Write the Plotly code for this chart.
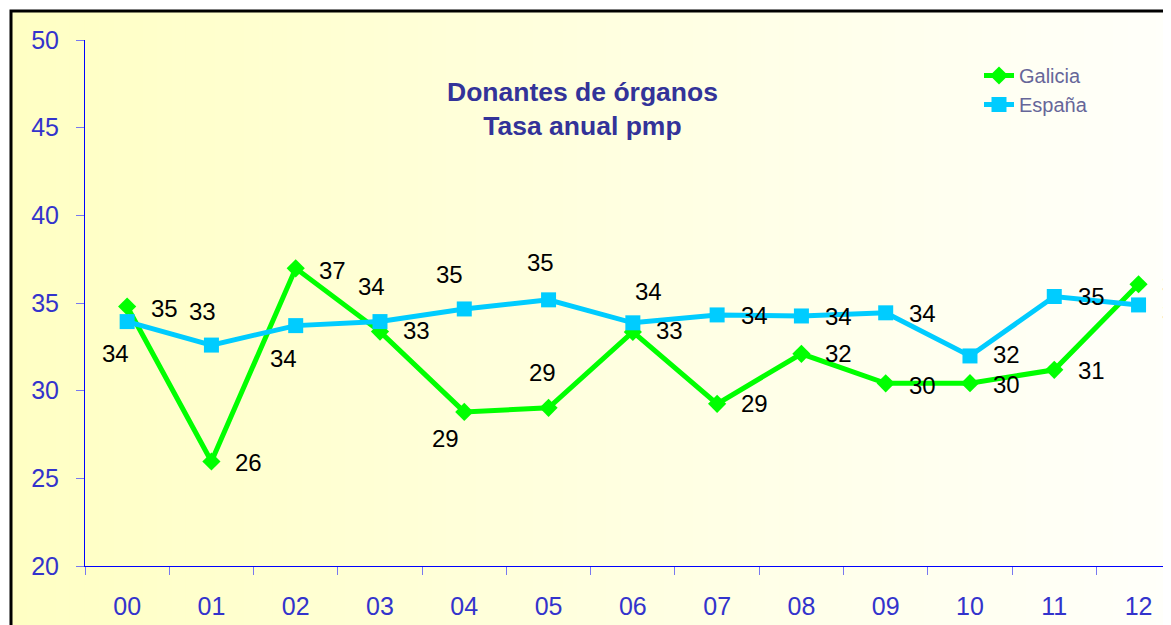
import plotly.graph_objects as go

# ---- data ----
years = ["00", "01", "02", "03", "04", "05", "06", "07", "08", "09", "10", "11", "12"]
galicia = [34.8, 25.96, 36.98, 33.37, 28.79, 29.02, 33.35, 29.25, 32.1, 30.42, 30.43, 31.19, 36.07]
espana = [33.94, 32.6, 33.71, 33.94, 34.66, 35.18, 33.87, 34.32, 34.26, 34.44, 31.98, 35.37, 34.89]
y_ticks = [20, 25, 30, 35, 40, 45, 50]
title_lines = ["Donantes de órganos", "Tasa anual pmp"]

# ---- label offsets (style: pixels, dx right, dy down) ----
gal_off = [(37, 2), (37, 1), (37, 2), (37, -1), (-19, 27), (-6, -35), (37, -1),
           (37, 0), (37, 0), (37, 2), (37, 1), (37, 1), (37, 0)]
esp_off = [(-12, 32), (-9, -34), (-12, 33), (-8, -35), (-15, -34), (-8, -37), (16, -31),
           (37, 1), (37, 1), (37, 1), (37, -1), (37, 0), (37, 8)]

FONT = "Arial, Liberation Sans, sans-serif"
OFF = 8  # page body margin
W, H = 1171 - OFF, 625 - OFF
L, R, T = 85 - OFF, 0, 40 - OFF
PH = 526
B = H - T - PH
PW = W - L - R


def px2x(px):  # page pixel -> paper
    return (px - (L + OFF)) / PW


def py2y(py):
    return ((T + OFF + PH) - py) / PH


fig = go.Figure()
fig.add_trace(go.Scatter(
    x=years, y=galicia, name="Galicia", mode="lines+markers",
    line=dict(color="#00FF00", width=5),
    marker=dict(symbol="diamond", size=14, color="#00FF00"),
    cliponaxis=False,
))
fig.add_trace(go.Scatter(
    x=years, y=espana, name="España", mode="lines+markers",
    line=dict(color="#00CCFF", width=5),
    marker=dict(symbol="square", size=15, color="#00CCFF"),
    cliponaxis=False,
))

annotations = []
for series, offs in ((galicia, gal_off), (espana, esp_off)):
    for xv, yv, (dx, dy) in zip(years, series, offs):
        annotations.append(dict(
            x=xv, y=yv, xref="x", yref="y", text=f"{yv:.0f}", showarrow=False,
            xshift=dx, yshift=-dy, xanchor="center", yanchor="middle",
            font=dict(family=FONT, size=24, color="#000000"),
        ))

annotations.append(dict(
    x=px2x(582), y=py2y(109), xref="paper", yref="paper",
    text="<b>" + "</b><br><b>".join(title_lines) + "</b>", showarrow=False,
    xanchor="center", yanchor="middle", align="center",
    font=dict(family=FONT, size=26.5, color="#333399"),
))

# gradient background strips + border
shapes = []
n = 80
x_start, x_end = 12, 1171
for i in range(n):
    a = x_start + (x_end - x_start) * i / n
    b = x_start + (x_end - x_start) * (i + 1) / n + 1
    t = i / (n - 1)
    bch = int(round(196 + (250 - 196) * t))
    shapes.append(dict(
        type="rect", xref="paper", yref="paper", layer="below",
        x0=px2x(a), x1=px2x(b), y0=py2y(640), y1=py2y(12),
        line=dict(width=0), fillcolor=f"rgb(255,255,{bch})",
    ))
shapes.append(dict(
    type="rect", xref="paper", yref="paper", layer="below",
    x0=px2x(11), x1=px2x(1200), y0=py2y(650), y1=py2y(11),
    line=dict(color="#000000", width=3), fillcolor="rgba(0,0,0,0)",
))

fig.update_layout(
    width=W, height=H,
    margin=dict(l=L, r=R, t=T, b=B, autoexpand=False),
    paper_bgcolor="white", plot_bgcolor="rgba(0,0,0,0)",
    font=dict(family=FONT),
    showlegend=True,
    legend=dict(
        x=px2x(979), y=py2y(56), xanchor="left", yanchor="top",
        bgcolor="rgba(0,0,0,0)", borderwidth=0,
        font=dict(family=FONT, size=20, color="#666699"),
        itemclick=False,
    ),
    xaxis=dict(
        type="category", range=[-0.5, 12.385], showgrid=False, zeroline=False,
        showline=True, linecolor="#0000FF", linewidth=1,
        ticks="outside", tickson="boundaries", ticklen=8, tickcolor="#7878F0",
        tickfont=dict(family=FONT, size=25, color="#3333CC"),
        ticklabelstandoff=18,
    ),
    yaxis=dict(
        range=[20, 50], tickvals=y_ticks, showgrid=False, zeroline=False,
        showline=True, linecolor="#0000FF", linewidth=1,
        ticks="outside", ticklen=8, tickcolor="#7878F0",
        tickfont=dict(family=FONT, size=25, color="#3333CC"),
        ticklabelstandoff=12,
    ),
    annotations=annotations,
    shapes=shapes,
)

fig.write_html("out.html")
